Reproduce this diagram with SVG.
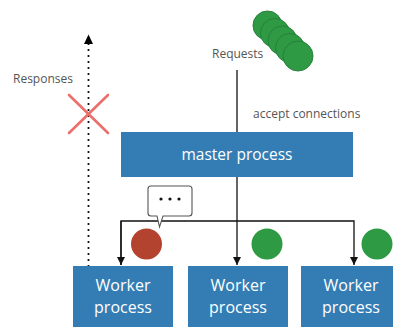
<svg xmlns="http://www.w3.org/2000/svg" width="393" height="327" viewBox="0 0 393 327">
  <defs>
    <style>
      .box { fill: #337db4; }
      .box-text { font-family: "Open Sans", "Noto Sans", sans-serif; fill: #ffffff; text-anchor: middle; }
      .label { font-family: "Open Sans", "Noto Sans", sans-serif; font-size: 12px; fill: #555555; }
      .wire { stroke: #111111; stroke-width: 1.3; fill: none; }
      .green { fill: #2f9a44; stroke: #26803a; stroke-width: 1; }
    </style>
    <marker id="arrow" viewBox="0 0 10 10" refX="10" refY="5" markerWidth="8" markerHeight="8" markerUnits="userSpaceOnUse" orient="auto">
      <path d="M0,0 L10,5 L0,10 Z" fill="#111111"/>
    </marker>
    <marker id="arrow-up" viewBox="0 0 10 10" refX="10" refY="5" markerWidth="10" markerHeight="10" markerUnits="userSpaceOnUse" orient="auto">
      <path d="M0,0 L10,5 L0,10 Z" fill="#000000"/>
    </marker>
  </defs>

  <!-- connectors -->
  <g id="connectors">
    <line class="wire" x1="237" y1="70" x2="237" y2="132"/>
    <line class="wire" x1="237" y1="177" x2="237" y2="221"/>
    <polyline class="wire" points="121,265 121,221 354,221 354,265" marker-end="url(#arrow)"/>
    <line class="wire" x1="121" y1="221" x2="121" y2="265" marker-end="url(#arrow)"/>
    <line class="wire" x1="237" y1="221" x2="237" y2="265" marker-end="url(#arrow)"/>
    <!-- responses path (dotted, upward) -->
    <line x1="88.5" y1="266" x2="88.5" y2="35" stroke="#000" stroke-width="2.2" stroke-linecap="round" stroke-dasharray="0 6" fill="none"/>
    <path d="M84,44 L88.5,34.5 L93,44 Z" fill="#000"/>
  </g>

  <!-- blocked responses -->
  <g id="blocked" stroke="#eb6f6a" stroke-width="2.6" stroke-linecap="round">
    <line x1="69" y1="95" x2="108" y2="133"/>
    <line x1="108" y1="95" x2="69" y2="133"/>
  </g>

  <!-- labels -->
  <text class="label" x="13" y="83">Responses</text>
  <text class="label" x="212" y="58">Requests</text>
  <text class="label" x="253" y="118">accept connections</text>

  <!-- incoming request queue -->
  <g id="requests">
    <circle class="green" cx="267.5" cy="25.5" r="14.5"/>
    <circle class="green" cx="275" cy="33" r="14.5"/>
    <circle class="green" cx="282.5" cy="40.5" r="14.5"/>
    <circle class="green" cx="290" cy="48" r="14.5"/>
    <circle class="green" cx="298" cy="56" r="15"/>
  </g>

  <g id="master">
    <rect class="box" x="121" y="132" width="232" height="45"/>
    <text class="box-text" x="237" y="160" font-size="15.5">master process</text>
  </g>

  <!-- speech bubble over the busy worker -->
  <g id="bubble">
    <path d="M151,186 H189 Q192,186 192,189 V213 Q192,216 189,216 H163 L159.5,227 L157,216 H151 Q148,216 148,213 V189 Q148,186 151,186 Z" fill="#ffffff" stroke="#555555" stroke-width="1.1"/>
    <circle cx="161" cy="199" r="1.6" fill="#111"/>
    <circle cx="170" cy="199" r="1.6" fill="#111"/>
    <circle cx="179" cy="199" r="1.6" fill="#111"/>
  </g>

  <!-- connections held by workers -->
  <circle id="conn-busy" cx="146.5" cy="244" r="15.5" fill="#b3422f"/>
  <circle id="conn-2" cx="267" cy="244" r="15.5" fill="#2f9a44"/>
  <circle id="conn-3" cx="377" cy="244" r="15.5" fill="#2f9a44"/>

  <g id="worker-1">
    <rect class="box" x="73" y="266" width="100" height="70"/>
    <text class="box-text" x="123" y="291" font-size="16">Worker</text>
    <text class="box-text" x="123" y="313" font-size="16">process</text>
  </g>
  <g id="worker-2">
    <rect class="box" x="188" y="266" width="100" height="70"/>
    <text class="box-text" x="238" y="291" font-size="16">Worker</text>
    <text class="box-text" x="238" y="313" font-size="16">process</text>
  </g>
  <g id="worker-3">
    <rect class="box" x="301" y="266" width="100" height="70"/>
    <text class="box-text" x="351" y="291" font-size="16">Worker</text>
    <text class="box-text" x="351" y="313" font-size="16">process</text>
  </g>
</svg>
